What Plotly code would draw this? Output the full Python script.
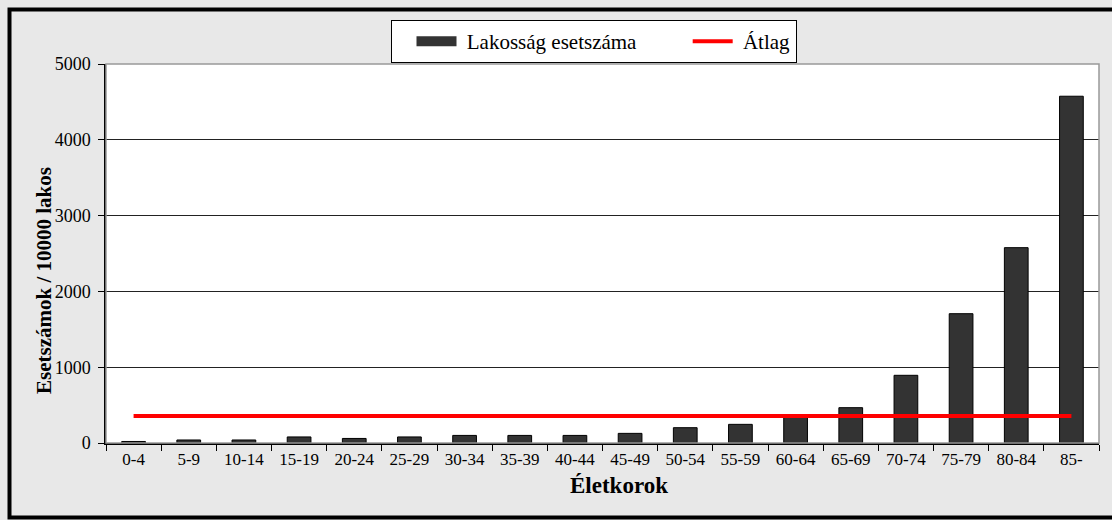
import plotly.graph_objects as go

# Age groups and rates per 10000 inhabitants
age_groups = ["0-4", "5-9", "10-14", "15-19", "20-24", "25-29", "30-34", "35-39",
              "40-44", "45-49", "50-54", "55-59", "60-64", "65-69", "70-74", "75-79",
              "80-84", "85-"]
cases = [20, 40, 40, 80, 60, 80, 100, 100, 100, 127, 202, 246, 340, 466, 893, 1706, 2577, 4575]
average = 356
y_ticks = [0, 1000, 2000, 3000, 4000, 5000]

W, H = 1112, 520
L, R, T, B = 106, 13, 64, 77
pw, ph = W - L - R, H - T - B


def px_x(p):
    return (p - L) / pw


def px_y(p):
    return (H - B - p) / ph


serif = "Liberation Serif"
BAR_COLOR = "#333333"
NB = "\u00a0"

fig = go.Figure()
fig.add_trace(go.Bar(
    x=age_groups, y=cases, name="Lakosság esetszáma", showlegend=False,
    marker=dict(color=BAR_COLOR, line=dict(color="#000000", width=1)),
))
# legend key for the bars, drawn as a wide block
fig.add_trace(go.Scatter(
    x=[None], y=[None], name=NB + "Lakosság esetszáma" + NB * 5, mode="lines",
    line=dict(color=BAR_COLOR, width=10),
))
fig.add_trace(go.Scatter(
    x=age_groups, y=[average] * len(age_groups), name=NB + "Átlag", mode="lines",
    line=dict(color="#ff0000", width=4),
))

fig.update_layout(
    width=W, height=H,
    margin=dict(l=L, r=R, t=T, b=B),
    paper_bgcolor="#e8e8e8", plot_bgcolor="#ffffff",
    font=dict(family=serif, size=17, color="#000000"),
    bargap=0.57,
    showlegend=True,
    legend=dict(
        orientation="h", x=px_x(593.5), xanchor="center", y=px_y(20), yanchor="top",
        bgcolor="#ffffff", bordercolor="#000000", borderwidth=1,
        font=dict(family=serif, size=21), itemwidth=40, indentation=20,
        traceorder="normal",
    ),
    xaxis=dict(
        type="category", range=[-0.5, 17.5], tickson="boundaries",
        ticks="outside", ticklen=6, tickcolor="#000000",
        showline=True, linecolor="#000000", linewidth=1.5,
        showgrid=False, tickfont=dict(size=17),
    ),
    yaxis=dict(
        range=[0, 5000], tickvals=y_ticks, ticks="outside", ticklen=6,
        tickcolor="#000000", showline=True, linecolor="#000000", linewidth=1.5,
        showgrid=True, gridcolor="#222222", gridwidth=1, zeroline=False,
        tickfont=dict(size=18), ticklabelstandoff=4,
    ),
    annotations=[
        dict(text="<b>Életkorok</b>", xref="paper", yref="paper",
             x=px_x(619), y=px_y(500), showarrow=False,
             font=dict(family=serif, size=23)),
        dict(text="<b>Esetszámok / 10000 lakos</b>", xref="paper", yref="paper",
             x=px_x(30), y=px_y(281), showarrow=False, textangle=-90,
             font=dict(family=serif, size=21)),
    ],
    shapes=[
        # light frame around the plotting area
        dict(type="rect", xref="paper", yref="paper", x0=0, x1=1, y0=0, y1=1,
             line=dict(color="#999999", width=1.5), layer="above"),
        # heavy outer chart frame
        dict(type="rect", xref="paper", yref="paper",
             x0=px_x(9.5), x1=px_x(1120), y0=px_y(517.5), y1=px_y(9.5),
             line=dict(color="#000000", width=4), layer="above"),
    ],
)

fig.write_html("out.html")
